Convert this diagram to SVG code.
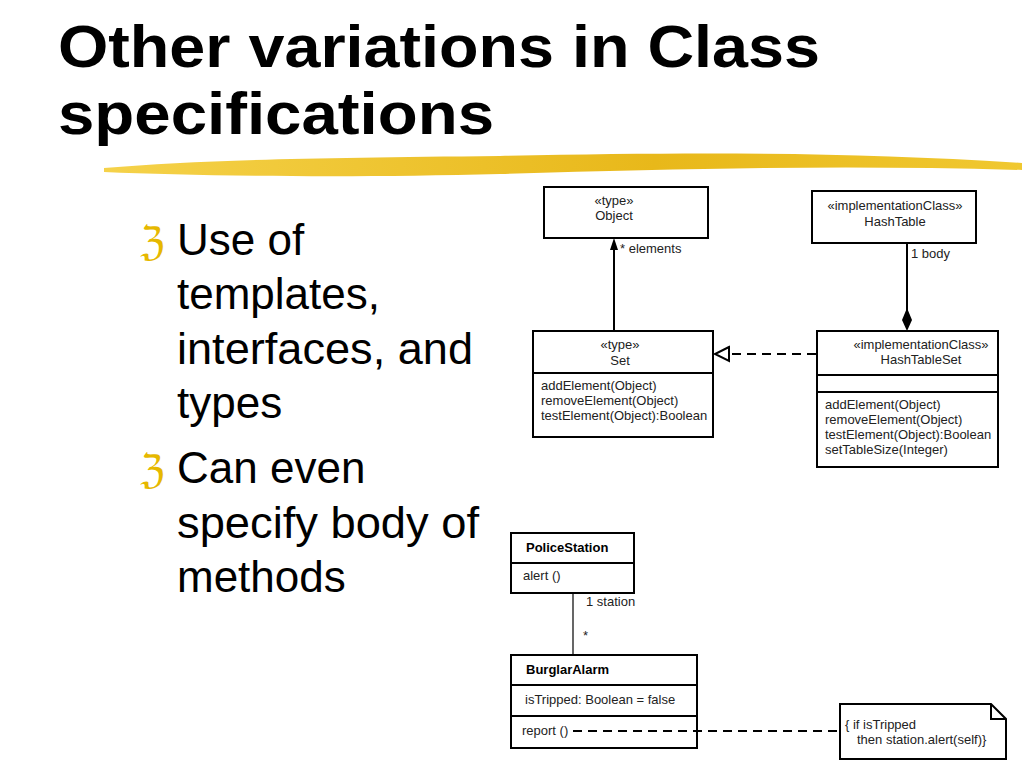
<svg xmlns="http://www.w3.org/2000/svg" width="1024" height="768" viewBox="0 0 1024 768">
<style>
.t{font-family:"Liberation Sans",Arial,sans-serif;fill:#000}
.title{font-size:60px;font-weight:bold}
.body{font-size:44px}
.bul{font-family:"DejaVu Sans",sans-serif;font-size:40px;fill:#e6b800}
.s{font-size:13px;fill:#222}
.b{font-size:13px;font-weight:bold}
.box{fill:#fff;stroke:#000;stroke-width:2}
.ln{stroke:#000;stroke-width:2;fill:none}
.dash{stroke:#000;stroke-width:2;fill:none;stroke-dasharray:9,6}
</style>
<defs>
<linearGradient id="hl" x1="0" x2="1"><stop offset="0" stop-color="#f5d24a"/><stop offset="0.6" stop-color="#e8b81a"/><stop offset="1" stop-color="#f0c830"/></linearGradient>
</defs>
<rect width="1024" height="768" fill="#fff"/>
<text class="t title" x="58" y="67" textLength="762" lengthAdjust="spacingAndGlyphs">Other variations in Class</text>
<text class="t title" x="58" y="134" textLength="436" lengthAdjust="spacingAndGlyphs">specifications</text>
<path d="M104,168 C200,160 300,158 500,156 C700,152 850,152 1022,163 L1022,170 C850,165 700,168 500,174 C350,178 200,176 104,172 Z" fill="url(#hl)"/>
<g id="bullets">
<text class="bul" x="140" y="255">ℨ</text>
<text class="t body" x="177" y="255">Use of</text>
<text class="t body" x="177" y="309">templates,</text>
<text class="t body" x="177" y="364" textLength="296" lengthAdjust="spacingAndGlyphs">interfaces, and</text>
<text class="t body" x="177" y="418">types</text>
<text class="bul" x="140" y="483">ℨ</text>
<text class="t body" x="177" y="483">Can even</text>
<text class="t body" x="177" y="538" textLength="302" lengthAdjust="spacingAndGlyphs">specify body of</text>
<text class="t body" x="177" y="592">methods</text>
</g>
<g id="Object"><rect class="box" x="544" y="187" width="164" height="51"/>
<text class="t s" x="614" y="205" text-anchor="middle">«type»</text>
<text class="t s" x="614" y="220" text-anchor="middle">Object</text></g>
<g id="HashTable"><rect class="box" x="812" y="191" width="164" height="52"/>
<text class="t s" x="895" y="210" text-anchor="middle">«implementationClass»</text>
<text class="t s" x="895" y="226" text-anchor="middle">HashTable</text></g>
<g id="Set"><rect class="box" x="533" y="331" width="180" height="106"/>
<line class="ln" x1="533" y1="373" x2="713" y2="373"/>
<text class="t s" x="620" y="349" text-anchor="middle">«type»</text>
<text class="t s" x="620" y="365" text-anchor="middle">Set</text>
<text class="t s" x="541" y="390">addElement(Object)</text>
<text class="t s" x="541" y="405">removeElement(Object)</text>
<text class="t s" x="541" y="420">testElement(Object):Boolean</text></g>
<g id="HashTableSet"><rect class="box" x="817" y="331" width="181" height="136"/>
<line class="ln" x1="817" y1="375" x2="998" y2="375"/>
<line class="ln" x1="817" y1="392" x2="998" y2="392"/>
<text class="t s" x="921" y="349" text-anchor="middle">«implementationClass»</text>
<text class="t s" x="921" y="364" text-anchor="middle">HashTableSet</text>
<text class="t s" x="825" y="409">addElement(Object)</text>
<text class="t s" x="825" y="424">removeElement(Object)</text>
<text class="t s" x="825" y="439">testElement(Object):Boolean</text>
<text class="t s" x="825" y="454">setTableSize(Integer)</text></g>
<g id="PoliceStation"><rect class="box" x="511" y="533" width="123" height="60"/>
<line class="ln" x1="511" y1="563" x2="634" y2="563"/>
<text class="t b" x="526" y="552">PoliceStation</text>
<text class="t s" x="523" y="580">alert ()</text></g>
<g id="BurglarAlarm"><rect class="box" x="511" y="655" width="186" height="93"/>
<line class="ln" x1="511" y1="685" x2="697" y2="685"/>
<line class="ln" x1="511" y1="716" x2="697" y2="716"/>
<text class="t b" x="526" y="674">BurglarAlarm</text>
<text class="t s" x="525" y="704">isTripped: Boolean = false</text>
<text class="t s" x="522" y="735">report ()</text></g>
<g id="note"><path d="M840,704 L991,704 L1006,719 L1006,759 L840,759 Z" class="box"/>
<path d="M991,704 L991,719 L1006,719" class="ln"/>
<text class="t s" x="845" y="729">{ if isTripped</text>
<text class="t s" x="857" y="744">then station.alert(self)}</text></g>
<g id="connectors">
<line class="ln" x1="614" y1="331" x2="614" y2="242"/>
<path d="M614,238 L610,250 L618,250 Z" fill="#000"/>
<text class="t s" x="620" y="253">* elements</text>
<line class="ln" x1="907" y1="243" x2="907" y2="312"/>
<path d="M907,308 L912,320 L907,331 L902,320 Z" fill="#000"/>
<text class="t s" x="911" y="258">1 body</text>
<line class="dash" x1="816" y1="354" x2="731" y2="354"/>
<path d="M729,347 L715,354 L729,361 Z" fill="#fff" stroke="#000" stroke-width="2"/>
<line x1="573" y1="593" x2="573" y2="655" stroke="#000" stroke-width="1.2"/>
<text class="t s" x="586" y="606">1 station</text>
<text class="t s" x="583" y="640">*</text>
<line class="dash" x1="573" y1="731" x2="840" y2="731"/>
</g>
</svg>
